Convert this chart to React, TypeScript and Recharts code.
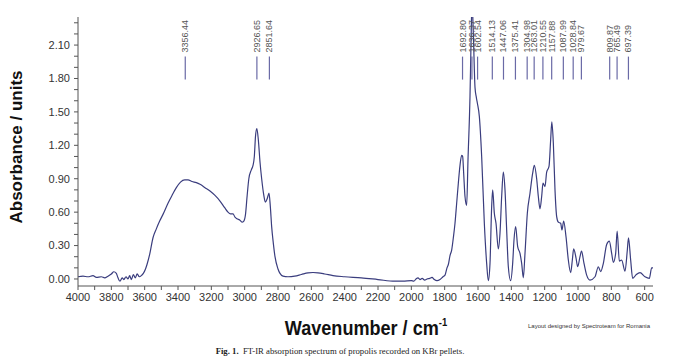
import { LineChart, Line, XAxis, YAxis, Scatter } from "recharts";

// wavenumber (cm-1) and absorbance, high to low
const wavenumbers = [
  4000, 3970, 3940, 3910, 3890, 3860, 3840, 3820, 3800, 3785, 3770, 3760, 3748, 3735, 3725, 3712,
  3700, 3690, 3680, 3668, 3656, 3645, 3632, 3620, 3608, 3595, 3586, 3570, 3550, 3530, 3510, 3490,
  3460, 3436, 3410, 3385, 3360, 3340, 3316, 3290, 3268, 3238, 3208, 3178, 3148, 3120, 3100, 3085,
  3070, 3058, 3046, 3030, 3016, 3005, 2995, 2985, 2975, 2960, 2950, 2942, 2935, 2927, 2918, 2908,
  2898, 2885, 2876, 2865, 2854, 2846, 2838, 2828, 2818, 2800, 2788, 2770, 2740, 2700, 2660, 2620,
  2590, 2560, 2520, 2470, 2400, 2300, 2200, 2100, 2050, 2000, 1985, 1972, 1960, 1948, 1935, 1920,
  1906, 1890, 1876, 1862, 1846, 1828, 1810, 1798, 1786, 1778, 1768, 1758, 1748, 1738, 1728, 1718,
  1708, 1698, 1692, 1686, 1678, 1668, 1660, 1648, 1642, 1636, 1628, 1618, 1610, 1604, 1592, 1578,
  1562, 1548, 1538, 1528, 1518, 1512, 1502, 1492, 1478, 1468, 1458, 1448, 1438, 1428, 1418, 1404,
  1392, 1384, 1374, 1362, 1348, 1338, 1328, 1318, 1304, 1288, 1272, 1262, 1248, 1238, 1228, 1218,
  1210, 1198, 1188, 1174, 1164, 1157, 1148, 1138, 1128, 1118, 1104, 1096, 1086, 1072, 1058, 1044,
  1034, 1026, 1012, 1002, 988, 979, 964, 948, 928, 898, 878, 864, 848, 828, 812, 798,
  788, 774, 765, 752, 738, 718, 704, 697, 684, 672, 650, 628, 598, 572, 558, 550,
];
const absorbance = [
  0.02, 0.025, 0.02, 0.03, 0.015, 0.02, 0.01, 0.025, 0.045, 0.065, 0.05, 0.01, -0.02, 0.01, -0.005, 0.02,
  0.0, 0.03, -0.005, 0.04, 0.01, 0.045, 0.02, 0.03, 0.05, 0.09, 0.13, 0.22, 0.37, 0.45, 0.52, 0.58,
  0.68, 0.75, 0.82, 0.87, 0.89, 0.89, 0.875, 0.865, 0.85, 0.82, 0.79, 0.75, 0.7, 0.64, 0.6, 0.585,
  0.585, 0.555, 0.54, 0.53, 0.51, 0.52, 0.58, 0.75, 0.9, 0.98, 1.02, 1.1, 1.28, 1.35, 1.25, 1.05,
  0.9, 0.75, 0.69, 0.72, 0.77, 0.65, 0.47, 0.32, 0.2, 0.09, 0.05, 0.025, 0.02, 0.025, 0.04, 0.055,
  0.058, 0.055, 0.045, 0.03, 0.02, 0.01, -0.005, -0.02, -0.02, -0.015, -0.02, 0.0, 0.01, -0.005, 0.005, -0.01,
  0.0, 0.005, 0.015, -0.005, -0.015, -0.005, 0.02, 0.035, 0.1, 0.13, 0.21, 0.26, 0.37, 0.5, 0.68, 0.86,
  1.02, 1.11, 1.1, 0.95, 0.74, 0.66, 1.07, 1.64, 2.1, 2.5, 2.2, 1.72, 1.63, 1.58, 1.46, 1.1,
  0.5, 0.14, -0.015, 0.14, 0.65, 0.8, 0.59, 0.5, 0.27, 0.41, 0.74, 0.96, 0.8, 0.44, 0.11, -0.015,
  0.14, 0.35, 0.47, 0.29, 0.23, 0.14, 0.01, 0.23, 0.59, 0.77, 0.95, 1.02, 0.9, 0.74, 0.63, 0.74,
  0.86, 0.83, 0.96, 1.01, 1.25, 1.41, 1.22, 0.8, 0.56, 0.51, 0.5, 0.44, 0.52, 0.38, 0.17, 0.057,
  0.17, 0.27, 0.19, 0.11, 0.2, 0.25, 0.14, 0.035, -0.01, 0.02, 0.11, 0.066, 0.14, 0.31, 0.34, 0.23,
  0.15, 0.23, 0.43, 0.16, 0.17, 0.07, 0.26, 0.37, 0.17, 0.006, 0.04, 0.057, 0.02, 0.006, 0.1, 0.1,
];

// annotated peak positions
const peaks = [
  3356.44, 2926.65, 2851.64, 1692.8, 1636.37, 1602.54, 1514.13, 1447.06, 1375.41, 1304.98,
  1263.01, 1210.55, 1157.88, 1087.99, 1028.84, 979.67, 809.87, 765.49, 697.39,
];
const markerLevel = 1.79;

const xTicks = [
  4000, 3900, 3800, 3700, 3600, 3500, 3400, 3300, 3200, 3100, 3000, 2900, 2800, 2700, 2600, 2500,
  2400, 2300, 2200, 2100, 2000, 1900, 1800, 1700, 1600, 1500, 1400, 1300, 1200, 1100, 1000, 900,
  800, 700, 600,
];
const xLabelTicks = [4000, 3800, 3600, 3400, 3200, 3000, 2800, 2600, 2400, 2200, 2000, 1800, 1600, 1400, 1200, 1000, 800, 600];
const yTicks = [
  0, 0.1, 0.2, 0.3, 0.4, 0.5, 0.6, 0.7, 0.8, 0.9, 1.0, 1.1, 1.2, 1.3, 1.4, 1.5, 1.6, 1.7, 1.8, 1.9,
  2.0, 2.1, 2.2, 2.3,
];
const yLabelTicks = [0, 0.3, 0.6, 0.9, 1.2, 1.5, 1.8, 2.1];

const spectrum = wavenumbers.map((w, i) => ({ x: w, y: absorbance[i] }));
const markers = peaks.map((p) => ({ x: p, y: markerLevel }));

const yDomain = [-0.063, 2.352];
const axisColor = "#555";
const tickFont = { fontSize: 11, fill: "#333", fontFamily: "Liberation Sans, Arial, sans-serif" };

function PeakMarker(props: any) {
  const { cx, cy, payload } = props;
  return (
    <g>
      <line x1={cx} y1={cy} x2={cx} y2={cy - 23} stroke="#6a6aa6" strokeWidth={1.2} />
      <text
        x={cx + 3}
        y={cy - 27}
        transform={`rotate(-90 ${cx + 3} ${cy - 27})`}
        fontSize={9}
        fill="#555"
        fontFamily="Liberation Sans, Arial, sans-serif"
      >
        {payload.x.toFixed(2)}
      </text>
    </g>
  );
}

export default function App() {
  return (
    <div
      style={{
        position: "absolute",
        left: 0,
        top: 0,
        width: 681,
        height: 364,
        background: "#fff",
        fontFamily: "Liberation Sans, Arial, sans-serif",
      }}
    >
      <LineChart width={681} height={320} margin={{ top: 17, right: 28, bottom: 0, left: 0 }}>
        <XAxis
          xAxisId="b"
          dataKey="x"
          type="number"
          domain={[550, 4000]}
          reversed
          allowDataOverflow
          ticks={xTicks}
          interval={0}
          tickFormatter={(v: number) => (xLabelTicks.includes(v) ? String(v) : "")}
          tickSize={4}
          tickMargin={3}
          height={34}
          stroke={axisColor}
          tick={tickFont}
        />
        <XAxis
          xAxisId="t"
          orientation="top"
          type="number"
          domain={[550, 4000]}
          reversed
          allowDataOverflow
          ticks={xTicks}
          interval={0}
          tickFormatter={() => ""}
          tickSize={4}
          height={0}
          stroke={axisColor}
        />
        <YAxis
          yAxisId="left"
          type="number"
          domain={yDomain}
          allowDataOverflow
          ticks={yTicks}
          interval={0}
          tickFormatter={(v: number) => (yLabelTicks.some((t) => Math.abs(t - v) < 1e-6) ? v.toFixed(2) : "")}
          tickSize={4}
          tickMargin={4}
          width={78}
          stroke={axisColor}
          tick={tickFont}
        />
        <YAxis
          yAxisId="right"
          orientation="right"
          type="number"
          domain={yDomain}
          ticks={yTicks}
          interval={0}
          tickFormatter={() => ""}
          tickSize={4}
          width={0}
          stroke={axisColor}
        />
        <Scatter
          data={markers}
          xAxisId="b"
          yAxisId="right"
          dataKey="y"
          shape={PeakMarker}
          isAnimationActive={false}
        />
        <Line
          data={spectrum}
          xAxisId="b"
          yAxisId="left"
          dataKey="y"
          type="monotone"
          stroke="#3a3d7e"
          strokeWidth={1.2}
          dot={false}
          isAnimationActive={false}
        />
      </LineChart>
      <div
        style={{
          position: "absolute",
          left: 17,
          top: 147,
          transform: "translate(-50%, -50%) rotate(-90deg)",
          fontSize: 17,
          fontWeight: "bold",
          color: "#111",
          whiteSpace: "nowrap",
        }}
      >
        Absorbance / units
      </div>
      <div
        style={{
          position: "absolute",
          left: 366,
          top: 328,
          transform: "translate(-50%, -50%) scaleX(0.86)",
          fontSize: 21,
          fontWeight: "bold",
          color: "#111",
          whiteSpace: "nowrap",
        }}
      >
        Wavenumber / cm<sup style={{ fontSize: 11, verticalAlign: "9px" }}>-1</sup>
      </div>
      <div
        style={{
          position: "absolute",
          left: 589,
          top: 326,
          transform: "translate(-50%, -50%)",
          fontSize: 6,
          color: "#333",
          whiteSpace: "nowrap",
        }}
      >
        Layout designed by Spectroteam for Romania
      </div>
      <div
        style={{
          position: "absolute",
          left: 340,
          top: 351,
          transform: "translate(-50%, -50%)",
          fontSize: 8.7,
          color: "#222",
          fontFamily: "Liberation Serif, Times New Roman, serif",
          whiteSpace: "nowrap",
        }}
      >
        <b>Fig. 1.</b>&nbsp; FT-IR absorption spectrum of propolis recorded on KBr pellets.
      </div>
    </div>
  );
}
